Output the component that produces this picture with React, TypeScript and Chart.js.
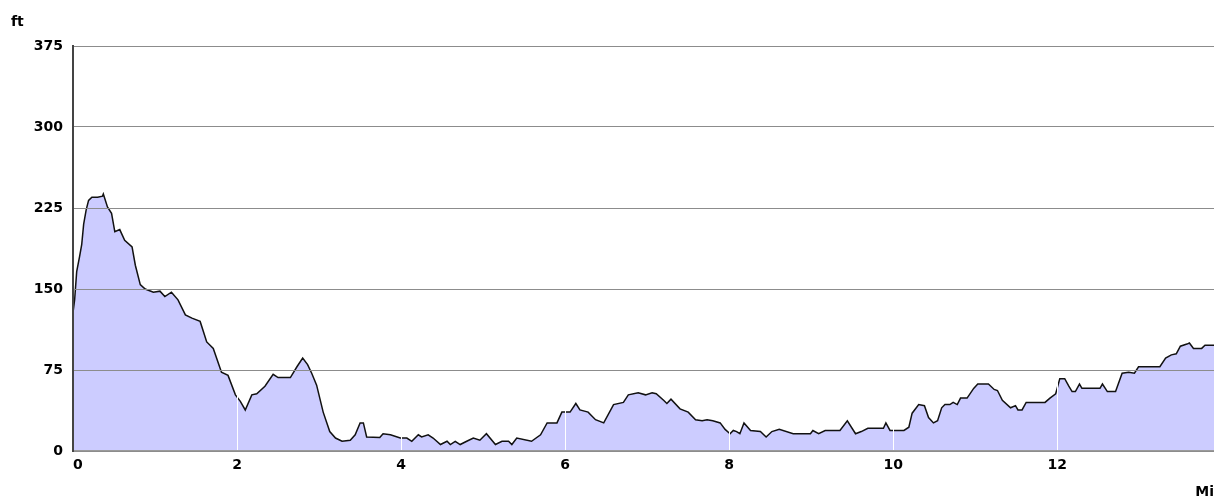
import React, { useEffect, useRef } from "react";
import { Chart, registerables } from "chart.js";

Chart.register(...registerables);

const miles = [
  0.0, 0.02, 0.045, 0.08, 0.106, 0.13, 0.16, 0.19, 0.23, 0.3, 0.36, 0.37, 0.42, 0.47, 0.51, 0.57, 0.63, 0.72, 0.76, 0.82,
  0.88, 0.98, 1.06, 1.12, 1.2, 1.28, 1.37, 1.45, 1.55, 1.63, 1.71, 1.81, 1.89, 1.98, 2.04, 2.1, 2.18, 2.24, 2.34, 2.44,
  2.5, 2.65, 2.73, 2.8, 2.86, 2.91, 2.97, 3.05, 3.13, 3.2, 3.28, 3.38, 3.44, 3.5, 3.54, 3.58, 3.74, 3.78, 3.87, 3.99,
  4.07, 4.13, 4.21, 4.25, 4.33, 4.39, 4.48, 4.56, 4.6, 4.66, 4.72, 4.8, 4.88, 4.96, 5.04, 5.15, 5.23, 5.31, 5.35, 5.41,
  5.59, 5.7, 5.78, 5.9, 5.96, 6.06, 6.13, 6.18, 6.28, 6.37, 6.47, 6.59, 6.71, 6.77, 6.89, 6.98, 7.06, 7.11, 7.2, 7.24,
  7.29, 7.4, 7.5, 7.59, 7.67, 7.73, 7.8, 7.89, 7.95, 8.01, 8.05, 8.09, 8.13, 8.18, 8.26, 8.38, 8.45, 8.52, 8.61, 8.78,
  8.99, 9.02, 9.09, 9.17, 9.35, 9.44, 9.54, 9.61, 9.69, 9.88, 9.91, 9.96, 10.13, 10.19, 10.23, 10.31, 10.38, 10.43, 10.49, 10.54,
  10.59, 10.63, 10.69, 10.73, 10.78, 10.82, 10.9, 10.98, 11.03, 11.16, 11.23, 11.27, 11.33, 11.43, 11.49, 11.52, 11.57, 11.62, 11.85, 11.91,
  11.98, 12.03, 12.09, 12.14, 12.18, 12.22, 12.27, 12.3, 12.52, 12.55, 12.61, 12.71, 12.79, 12.87, 12.94, 12.99, 13.25, 13.32, 13.39, 13.45,
  13.5, 13.58, 13.61, 13.66, 13.76, 13.8, 13.91,
];

const feet = [
  128, 140, 166, 180, 191, 210, 223, 232, 235, 235, 236, 238, 226, 220, 203, 205, 195, 189, 172, 154,
  150, 147, 148, 143, 147, 140, 126, 123, 120, 101, 95, 73, 70, 52, 46, 38, 52, 53, 60, 71,
  68, 68, 78, 86, 80, 72, 61, 36, 18, 12, 9, 10, 15, 26, 26, 13, 12.5, 16, 15, 12,
  12, 9, 15, 13, 15, 12, 6, 9, 6, 9, 6, 9, 12, 10, 16, 6, 9, 9, 6, 12,
  9, 15, 26, 26, 36, 36, 44, 38, 36, 29, 26, 43, 45, 52, 54, 52, 54, 53, 47, 44,
  48, 39, 36, 29, 28, 29, 28, 26, 20, 16, 19, 18, 16, 26, 19, 18, 13, 18, 20, 16,
  16, 19, 16, 19, 19, 28, 16, 18, 21, 21, 26, 19, 19, 22, 35, 43, 42, 31, 26, 28,
  40, 43, 43, 45, 43, 49, 49, 58, 62, 62, 57, 56, 47, 40, 42, 38, 38, 45, 45, 49,
  53, 67, 67, 60, 55, 55, 62, 58, 58, 62, 55, 55, 72, 73, 72, 78, 78, 86, 89, 90,
  97, 99, 100, 95, 95, 98, 98,
];

const yTicks = [0, 75, 150, 225, 300, 375];
const xTicks = [0, 2, 4, 6, 8, 10, 12];
const yUnit = "ft";
const xUnit = "Mi";

const FONT_FAMILY = "'DejaVu Sans', Verdana, sans-serif";

export default function App() {
  const ref = useRef<HTMLCanvasElement>(null);

  useEffect(() => {
    if (!ref.current) return;
    const unitLabels = {
      id: "unitLabels",
      afterDraw(chart: any) {
        const c = chart.ctx;
        c.save();
        c.font = `bold 14px ${FONT_FAMILY}`;
        c.fillStyle = "#000";
        c.textBaseline = "alphabetic";
        c.textAlign = "left";
        c.fillText(yUnit, 11, 26);
        c.textAlign = "right";
        c.fillText(xUnit, 1214, 496);
        c.restore();
      },
    };

    const tickFont = { family: FONT_FAMILY, size: 14, weight: "bold" as const };

    const chart = new Chart(ref.current, {
      type: "line",
      data: {
        datasets: [
          {
            data: miles.map((m, i) => ({ x: m, y: feet[i] })),
            borderColor: "#111111",
            borderWidth: 1.5,
            backgroundColor: "#ccccff",
            fill: "origin",
            pointRadius: 0,
            tension: 0,
          },
        ],
      },
      options: {
        responsive: false,
        animation: false,
        layout: { padding: { top: 46, right: 0, left: 0, bottom: 0 } },
        plugins: {
          legend: { display: false },
          tooltip: { enabled: false },
        },
        scales: {
          x: {
            type: "linear",
            min: 0,
            max: 13.91,
            afterBuildTicks: (s: any) => {
              s.ticks = xTicks.map((v) => ({ value: v }));
            },
            afterFit: (s: any) => {
              s.height = 45;
            },
            ticks: {
              font: tickFont,
              color: "#000",
              padding: 6,
              maxRotation: 0,
              autoSkip: false,
              callback: (v: any) => (v === 0 ? "\u20070" : String(v)),
            },
            grid: {
              z: 1,
              drawTicks: false,
              lineWidth: 1,
              color: (ctx: any) =>
                ctx.tick && ctx.tick.value === 0 ? "rgba(0,0,0,0)" : "#ffffff",
            },
            border: { z: 1, color: "#9a9a9a", width: 2 },
          },
          y: {
            min: 0,
            max: 375,
            afterBuildTicks: (s: any) => {
              s.ticks = yTicks.map((v) => ({ value: v }));
            },
            afterFit: (s: any) => {
              s.width = 73;
            },
            ticks: {
              font: tickFont,
              color: "#000",
              padding: 10,
              autoSkip: false,
            },
            grid: { z: 1, drawTicks: false, color: "#8c8c8c", lineWidth: 1 },
            border: { z: 1, color: "#444444", width: 2 },
          },
        },
      },
      plugins: [unitLabels],
    });
    return () => chart.destroy();
  }, []);

  return (
    <div style={{ position: "absolute", left: 0, top: 0, width: 1214, height: 496 }}>
      <canvas ref={ref} width={1214} height={496} style={{ display: "block" }} />
    </div>
  );
}
